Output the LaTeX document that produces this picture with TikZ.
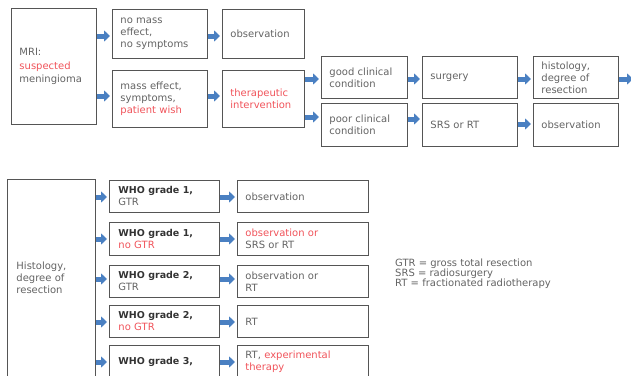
\documentclass[tikz,border=0pt]{standalone}
\usepackage{fontspec}
\setmainfont{DejaVu Sans}
\usetikzlibrary{arrows.meta}
\definecolor{txt}{HTML}{636363}
\definecolor{dark}{HTML}{333333}
\definecolor{redt}{HTML}{F0535A}
\definecolor{bord}{HTML}{555555}
\definecolor{arrc}{HTML}{4A80C2}
\newcommand\whofnt{\fontsize{9.5}{12}\selectfont\bfseries\color{dark}}
\begin{document}
\begin{tikzpicture}[x=1pt,y=-1pt,
  box/.style={draw=bord, line width=0.9pt, anchor=north west, inner xsep=8pt, inner ysep=0pt,
    align=left, text=txt, font=\fontsize{10}{12}\selectfont},
  arr/.style={draw=arrc, line width=5pt, -{Triangle[width=11pt,length=6pt]}, shorten >=2pt}]
\useasboundingbox (0,0) rectangle (631,375);
\clip (0,0) rectangle (631,375);
% top flow
\node[box, minimum width=85, minimum height=116, text width=69, font=\fontsize{10}{13.5}\selectfont] (mri) at (11,8) {MRI:\\\textcolor{redt}{suspected}\\meningioma};
\node[box, minimum width=95, minimum height=49, text width=79] (nme) at (112,9) {no mass\\effect,\\no symptoms};
\node[box, minimum width=82, minimum height=49, text width=66] (obs1) at (222,9) {observation};
\node[box, minimum width=95, minimum height=57, text width=79] (me) at (112,70) {mass effect,\\symptoms,\\\textcolor{redt}{patient wish}};
\node[box, minimum width=82, minimum height=57, text width=66] (ther) at (222,70) {\textcolor{redt}{therapeutic}\\\textcolor{redt}{intervention}};
\node[box, minimum width=86, minimum height=42, text width=70] (good) at (321,56) {good clinical\\condition};
\node[box, minimum width=86, minimum height=43, text width=70] (poor) at (321,103) {poor clinical\\condition};
\node[box, minimum width=95, minimum height=42, text width=79] (surg) at (422,56) {surgery};
\node[box, minimum width=95, minimum height=43, text width=79] (srs) at (422,103) {SRS or RT};
\node[box, minimum width=85, minimum height=42, text width=69] (hist) at (533,56) {histology,\\degree of\\resection};
\node[box, minimum width=85, minimum height=43, text width=69] (obs2) at (533,103) {observation};
\coordinate (out) at (633,79);
\draw[arr] (mri.east |- 0,36) -- (nme.west |- 0,36);
\draw[arr] (mri.east |- 0,96) -- (me.west |- 0,96);
\draw[arr] (nme.east |- 0,36) -- (obs1.west |- 0,36);
\draw[arr] (me.east |- 0,96) -- (ther.west |- 0,96);
\draw[arr] (ther.east |- 0,79) -- (good.west |- 0,79);
\draw[arr] (ther.east |- 0,117) -- (poor.west |- 0,117);
\draw[arr] (good.east |- 0,79) -- (surg.west |- 0,79);
\draw[arr] (poor.east |- 0,119) -- (srs.west |- 0,119);
\draw[arr] (surg.east |- 0,79) -- (hist.west |- 0,79);
\draw[arr] (srs.east |- 0,124) -- (obs2.west |- 0,124);
\draw[arr, shorten >=0pt] (hist.east |- out) -- (out);
% bottom flow
\node[box, minimum width=88, minimum height=197, text width=70, inner xsep=9pt] (hist2) at (7,179) {Histology,\\degree of\\resection};
\node[box, minimum width=110, minimum height=32, text width=92, inner xsep=9pt] (w1) at (109,180) {{\whofnt WHO grade 1,}\\GTR};
\node[box, minimum width=110, minimum height=33, text width=92, inner xsep=9pt] (w2) at (109,222) {{\whofnt WHO grade 1,}\\\textcolor{redt}{no GTR}};
\node[box, minimum width=110, minimum height=32, text width=92, inner xsep=9pt] (w3) at (109,265) {{\whofnt WHO grade 2,}\\GTR};
\node[box, minimum width=110, minimum height=32, text width=92, inner xsep=9pt] (w4) at (109,305) {{\whofnt WHO grade 2,}\\\textcolor{redt}{no GTR}};
\node[box, minimum width=110, minimum height=32, text width=92, inner xsep=9pt] (w5) at (109,345) {{\whofnt WHO grade 3,}};
\node[box, minimum width=131, minimum height=32, text width=115] (r1) at (237,180) {observation};
\node[box, minimum width=131, minimum height=33, text width=115] (r2) at (237,222) {\textcolor{redt}{observation or}\\SRS or RT};
\node[box, minimum width=131, minimum height=32, text width=115] (r3) at (237,265) {observation or\\RT};
\node[box, minimum width=131, minimum height=32, text width=115] (r4) at (237,305) {RT};
\node[box, minimum width=131, minimum height=32, text width=115] (r5) at (237,345) {RT,\ \textcolor{redt}{experimental}\\\textcolor{redt}{therapy}};
\foreach \a/\b/\y in {hist2/w1/197, hist2/w2/239, hist2/w3/279, hist2/w4/322, hist2/w5/362,
                      w1/r1/197, w2/r2/239, w3/r3/279, w4/r4/322, w5/r5/362}
  \draw[arr] (\a.east |- 0,\y) -- (\b.west |- 0,\y);
% legend
\node[anchor=north west, inner sep=0pt, align=left, text=txt, font=\fontsize{10}{9.8}\selectfont] (leg) at (395,259)
  {GTR = gross total resection\\SRS = radiosurgery\\RT = fractionated radiotherapy};
\end{tikzpicture}
\end{document}
